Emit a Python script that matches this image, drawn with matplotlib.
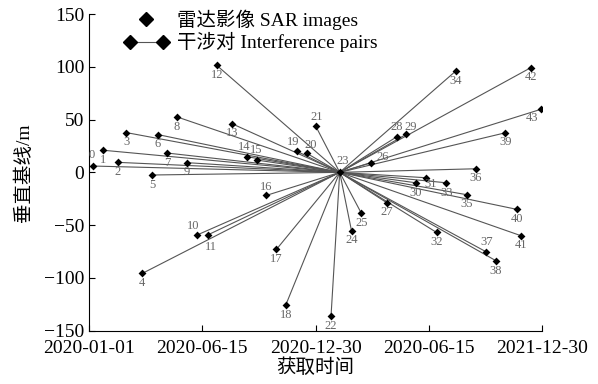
import matplotlib
matplotlib.use("Agg")
import matplotlib.pyplot as plt
from matplotlib.lines import Line2D
from matplotlib.legend_handler import HandlerLine2D

plt.rcParams['font.family'] = ['Liberation Serif', 'Noto Sans CJK SC']
plt.rcParams['axes.unicode_minus'] = True

# acquisition time (days from 2020-01-01) and perpendicular baseline (m)
img_id = list(range(44))
img_day = [6, 22, 46, 60, 86, 102, 111, 126, 142, 158,
           174, 191, 206, 230, 254, 270, 286, 302, 317, 335,
           351, 365, 390, 404, 423, 439, 455, 480, 496, 511,
           527, 543, 560, 576, 591, 609, 623, 640, 656, 671,
           689, 696, 712, 728]
img_bperp = [6, 21, 9.5, 37.7, -95.7, -2.5, 35.8, 18.3, 52.5, 9.2,
             -59.4, -59.4, 101.3, 46.2, 14.9, 11.7, -21.8, -73, -125.8, 20,
             18, 44.2, -136.2, 0, -55.3, -38.9, 9.1, -28.8, 33.7, 36,
             -9.9, -5.1, -56.9, -9.9, 96, -21.2, 3.4, -75.3, -83.8, 37.5,
             -35, -60, 99.2, 59.7]
master = 23

tick_pos = [0, 182.5, 365, 547.5, 730]
tick_labels = ['2020-01-01', '2020-06-15', '2020-12-30', '2020-06-15', '2021-12-30']

# label offsets in points (default: under the marker)
label_off = {0: (-0.7, 8), 10: (-2.5, 6.5), 11: (2.5, -8.5), 14: (-1.5, 7), 15: (0, 7),
             16: (0, 6), 19: (-2.5, 6.5), 20: (3, 6), 21: (1, 6.5), 23: (2.5, 8),
             26: (8.5, 4.5), 28: (0, 7), 29: (3, 5.5), 31: (3.5, -4.5), 37: (0.5, 7),
             43: (-6, -6.5)}

fig = plt.figure(figsize=(5.98, 3.84), dpi=100)
ax = fig.add_axes([0.1488, 0.1388, 0.7576, 0.8247])

mx, my = img_day[master], img_bperp[master]
for i in img_id:
    if i == master:
        continue
    ax.plot([img_day[i], mx], [img_bperp[i], my], color='#555555', lw=0.8, zorder=1)

ax.scatter(img_day, img_bperp, marker='D', s=16, color='black', zorder=3, linewidths=0)

for i in img_id:
    dx, dy = label_off.get(i, (0, -7))
    ax.annotate(str(i), (img_day[i], img_bperp[i]), xytext=(dx, dy),
                textcoords='offset points', ha='center', va='center',
                fontsize=9, color='#666666')

ax.set_xlim(0, 730)
ax.set_ylim(-150, 150)
ax.set_xticks(tick_pos)
ax.set_xticklabels(tick_labels)
ax.set_yticks([-150, -100, -50, 0, 50, 100, 150])
ax.tick_params(direction='in', length=4, labelsize=14, width=0.8)
ax.tick_params(axis='x', pad=7)
ax.spines['top'].set_visible(False)
ax.spines['right'].set_visible(False)
ax.set_xlabel('获取时间', fontsize=14, labelpad=1)
ax.set_ylabel('垂直基线/m', fontsize=14, labelpad=8)

h_img = Line2D([], [], marker='D', ls='none', color='black', markersize=7)
h_pair = Line2D([], [], marker='D', ls='-', color='#555555', lw=0.8,
                markerfacecolor='black', markeredgecolor='black', markersize=7)
ax.legend([h_img, h_pair], ['雷达影像 SAR images', '干涉对 Interference pairs'],
          handler_map={h_img: HandlerLine2D(numpoints=1), h_pair: HandlerLine2D(numpoints=2)},
          loc='upper left', bbox_to_anchor=(0.207, 0.975), bbox_transform=fig.transFigure,
          frameon=False, fontsize=14, borderpad=0, borderaxespad=0,
          handlelength=2.3, handletextpad=0.45, labelspacing=0.12, markerscale=1)

fig.savefig('out.png', dpi=100)
